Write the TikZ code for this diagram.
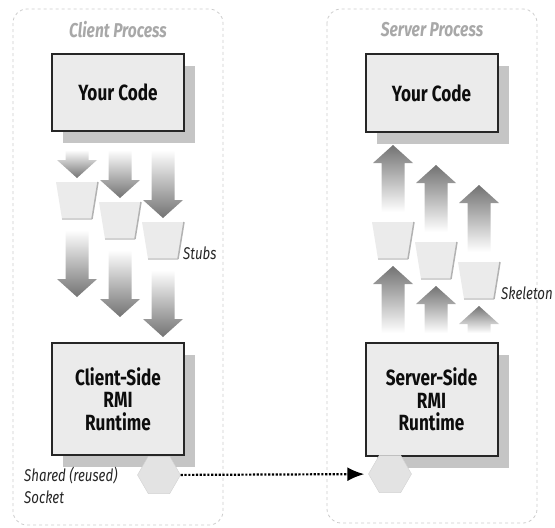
\documentclass[tikz,border=0pt]{standalone}
\usepackage{fontspec}
\setmainfont{Fira Sans}[FakeStretch=0.78]
\usepackage{tikz}
\usetikzlibrary{arrows.meta,positioning,shapes.geometric,shadows}
\definecolor{relleno}{gray}{0.92}
\definecolor{titulogris}{gray}{0.66}

% arrow pointing down: x, y of the tail, y of the tip
\newcommand{\flechabaja}[3]{%
  \shade[top color=white,bottom color=gray!90!black]
    (#1-11.5,#2) -- (#1+11.5,#2) -- (#1+11.5,#3-18) -- (#1+20,#3-18)
    -- (#1,#3) -- (#1-20,#3-18) -- (#1-11.5,#3-18) -- cycle;}
% arrow pointing up: x, y of the tail, y of the tip
\newcommand{\flechasube}[3]{%
  \shade[bottom color=white,top color=gray!90!black]
    (#1-11.5,#2) -- (#1+11.5,#2) -- (#1+11.5,#3+18) -- (#1+20,#3+18)
    -- (#1,#3) -- (#1-20,#3+18) -- (#1-11.5,#3+18) -- cycle;}
% stub / skeleton bucket: x of the centre, y of the top
\newcommand{\cubeta}[2]{%
  \fill[relleno] (#1-21,#2) -- (#1+21,#2) -- (#1+15,#2+37) -- (#1-15,#2+37) -- cycle;
  \draw[gray!35,line width=1.2pt] (#1-15,#2+37) -- (#1+15,#2+37);
  \draw[gray!60,line width=1.5pt] (#1+21,#2) -- (#1+15,#2+37);}

\begin{document}
\begin{tikzpicture}[x=1pt,y=-1pt,>=Stealth,
    proceso/.style={draw=gray!40,dashed,line width=0.8pt,rounded corners=14pt},
    titulo/.style={text=titulogris,font=\itshape\bfseries\fontsize{20}{22}\selectfont},
    caja/.style={draw=black!85,line width=2pt,fill=relleno,align=center,inner sep=0pt,
      minimum width=132pt,text=black!95,font=\bfseries\fontsize{22}{22.5}\selectfont,
      drop shadow={shadow xshift=11pt,shadow yshift=-12pt,fill=gray!60,opacity=0.75}},
    enchufe/.style={regular polygon,regular polygon sides=6,minimum size=43pt,
      inner sep=0pt,fill=gray!22,draw=gray!35},
    etiqueta/.style={text=black!85,font=\itshape\fontsize{17}{22}\selectfont,inner sep=0pt}]
  \useasboundingbox (0,0) rectangle (555,528);

  % the two processes
  \draw[proceso] (13,9) rectangle (223,525);
  \draw[proceso] (327,9) rectangle (537,523);
  \node[titulo] (ctit) at (118,30) {Client Process};
  \node[titulo] (stit) at (432,30) {Server Process};

  % boxes
  \node[caja,minimum height=77pt] (ccode) at (118,92.5) {Your Code};
  \node[caja,minimum height=112pt] (crmi) at (118,399) {Client-Side\\RMI\\Runtime};
  \node[caja,minimum height=78pt] (scode) at (431.5,93) {Your Code};
  \node[caja,minimum height=113pt] (srmi) at (431.5,399.5) {Server-Side\\RMI\\Runtime};

  % stubs
  \foreach \i/\x in {0/77,1/120,2/163}{
    \flechabaja{\x}{150}{178+20*\i}
    \cubeta{\x}{182+20*\i}
    \flechabaja{\x}{230+20*\i}{297+20*\i}
  }
  \node[etiqueta,anchor=west] (stubs) at (183,253) {Stubs};

  % skeletons
  \foreach \i/\x in {0/393,1/436,2/479}{
    \flechasube{\x}{212+20*\i}{145+20*\i}
    \cubeta{\x}{222+20*\i}
    \flechasube{\x}{333}{266+20*\i}
  }
  \node[etiqueta,anchor=west] (skel) at (501,293) {Skeleton};

  % sockets
  \node[enchufe] (chex) at (159,475) {};
  \node[enchufe] (shex) at (390,474) {};
  \node[etiqueta,anchor=north west,align=left] (shared) at (24,467) {Shared (reused)\\Socket};
  \draw[-{Latex[length=17pt,width=14pt]},line width=2.2pt,dash pattern=on 2.2pt off 1.6pt,
    shorten >=4pt] (chex) -- (shex);
\end{tikzpicture}
\end{document}
